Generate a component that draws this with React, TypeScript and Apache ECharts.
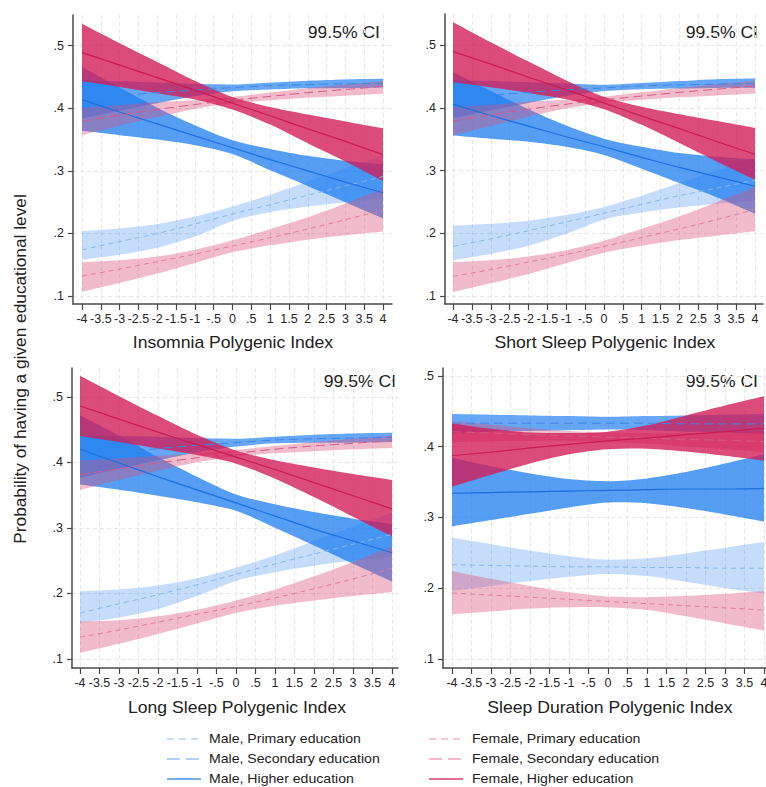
import React, { useEffect, useRef } from 'react';
import * as echarts from 'echarts';

const FONT = '"Liberation Sans", Arial, Helvetica, sans-serif';

// x positions of the estimated points (polygenic index)
const xs = [-4, -3, -2, -1, 0, 1, 2, 3, 4];
const xTicks = [-4, -3.5, -3, -2.5, -2, -1.5, -1, -0.5, 0, 0.5, 1, 1.5, 2, 2.5, 3, 3.5, 4];
const yTicks = [0.1, 0.2, 0.3, 0.4, 0.5];

const groupLabels = [
  'Male, Primary education',
  'Male, Secondary education',
  'Male, Higher education',
  'Female, Primary education',
  'Female, Secondary education',
  'Female, Higher education',
];

// ---------- Insomnia Polygenic Index ----------
const insMalePrimary = {
  mid: [0.174, 0.187, 0.2, 0.215, 0.231, 0.246, 0.261, 0.276, 0.291],
  hi: [0.204, 0.208, 0.215, 0.227, 0.243, 0.262, 0.283, 0.304, 0.325],
  lo: [0.158, 0.166, 0.177, 0.195, 0.22, 0.234, 0.243, 0.25, 0.256],
};
const insMaleSecondary = {
  mid: [0.414, 0.42, 0.425, 0.429, 0.433, 0.436, 0.438, 0.439, 0.44],
  hi: [0.444, 0.443, 0.441, 0.439, 0.438, 0.441, 0.444, 0.446, 0.447],
  lo: [0.384, 0.396, 0.408, 0.419, 0.427, 0.43, 0.432, 0.432, 0.433],
};
const insMaleHigher = {
  mid: [0.414, 0.394, 0.375, 0.356, 0.337, 0.318, 0.3, 0.282, 0.265],
  hi: [0.466, 0.433, 0.401, 0.373, 0.349, 0.335, 0.324, 0.316, 0.31],
  lo: [0.364, 0.357, 0.35, 0.341, 0.327, 0.301, 0.276, 0.25, 0.224],
};
const insFemalePrimary = {
  mid: [0.132, 0.143, 0.155, 0.167, 0.18, 0.193, 0.207, 0.222, 0.237],
  hi: [0.154, 0.157, 0.163, 0.174, 0.189, 0.207, 0.226, 0.248, 0.272],
  lo: [0.107, 0.121, 0.136, 0.153, 0.17, 0.181, 0.19, 0.197, 0.203],
};
const insFemaleSecondary = {
  mid: [0.379, 0.389, 0.398, 0.406, 0.413, 0.419, 0.425, 0.43, 0.435],
  hi: [0.401, 0.405, 0.41, 0.413, 0.418, 0.425, 0.432, 0.438, 0.443],
  lo: [0.357, 0.372, 0.386, 0.399, 0.408, 0.413, 0.417, 0.42, 0.423],
};
const insFemaleHigher = {
  mid: [0.489, 0.469, 0.449, 0.429, 0.408, 0.388, 0.367, 0.347, 0.326],
  hi: [0.535, 0.504, 0.474, 0.444, 0.418, 0.402, 0.39, 0.379, 0.368],
  lo: [0.443, 0.434, 0.424, 0.414, 0.398, 0.374, 0.344, 0.315, 0.284],
};

// ---------- Short Sleep Polygenic Index ----------
const shortMalePrimary = {
  mid: [0.179, 0.191, 0.204, 0.218, 0.232, 0.246, 0.26, 0.272, 0.285],
  hi: [0.212, 0.215, 0.22, 0.229, 0.242, 0.26, 0.28, 0.3, 0.32],
  lo: [0.157, 0.167, 0.18, 0.199, 0.222, 0.233, 0.241, 0.247, 0.252],
};
const shortMaleSecondary = {
  mid: [0.414, 0.42, 0.425, 0.429, 0.432, 0.435, 0.437, 0.438, 0.439],
  hi: [0.444, 0.443, 0.441, 0.439, 0.437, 0.44, 0.443, 0.446, 0.447],
  lo: [0.384, 0.396, 0.408, 0.419, 0.427, 0.43, 0.431, 0.432, 0.432],
};
const shortMaleHigher = {
  mid: [0.406, 0.388, 0.371, 0.354, 0.338, 0.321, 0.305, 0.29, 0.275],
  hi: [0.457, 0.427, 0.398, 0.372, 0.351, 0.338, 0.328, 0.322, 0.318],
  lo: [0.356, 0.351, 0.346, 0.338, 0.325, 0.303, 0.28, 0.257, 0.231],
};
const shortFemalePrimary = {
  mid: [0.131, 0.142, 0.154, 0.166, 0.179, 0.193, 0.207, 0.222, 0.238],
  hi: [0.154, 0.157, 0.163, 0.173, 0.188, 0.207, 0.227, 0.25, 0.274],
  lo: [0.106, 0.12, 0.135, 0.152, 0.169, 0.18, 0.189, 0.196, 0.203],
};
const shortFemaleSecondary = {
  mid: [0.379, 0.389, 0.398, 0.406, 0.413, 0.419, 0.425, 0.43, 0.435],
  hi: [0.401, 0.405, 0.41, 0.413, 0.418, 0.425, 0.432, 0.438, 0.443],
  lo: [0.356, 0.371, 0.386, 0.399, 0.408, 0.413, 0.417, 0.42, 0.423],
};
const shortFemaleHigher = {
  mid: [0.49, 0.47, 0.449, 0.429, 0.408, 0.387, 0.367, 0.346, 0.326],
  hi: [0.537, 0.505, 0.474, 0.444, 0.418, 0.402, 0.39, 0.379, 0.368],
  lo: [0.441, 0.433, 0.424, 0.414, 0.398, 0.373, 0.344, 0.314, 0.285],
};

// ---------- Long Sleep Polygenic Index ----------
const longMalePrimary = {
  mid: [0.17, 0.184, 0.198, 0.213, 0.229, 0.245, 0.26, 0.275, 0.29],
  hi: [0.203, 0.206, 0.212, 0.223, 0.239, 0.258, 0.28, 0.302, 0.323],
  lo: [0.155, 0.163, 0.176, 0.196, 0.219, 0.232, 0.242, 0.25, 0.256],
};
const longMaleSecondary = {
  mid: [0.408, 0.415, 0.421, 0.426, 0.43, 0.434, 0.436, 0.437, 0.438],
  hi: [0.44, 0.44, 0.439, 0.437, 0.436, 0.439, 0.442, 0.444, 0.445],
  lo: [0.376, 0.39, 0.403, 0.415, 0.424, 0.429, 0.43, 0.43, 0.431],
};
const longMaleHigher = {
  mid: [0.42, 0.399, 0.378, 0.358, 0.338, 0.318, 0.298, 0.28, 0.262],
  hi: [0.472, 0.441, 0.408, 0.378, 0.351, 0.336, 0.324, 0.314, 0.306],
  lo: [0.366, 0.358, 0.349, 0.339, 0.326, 0.3, 0.273, 0.245, 0.218],
};
const longFemalePrimary = {
  mid: [0.133, 0.144, 0.156, 0.168, 0.18, 0.193, 0.207, 0.222, 0.238],
  hi: [0.157, 0.159, 0.165, 0.175, 0.189, 0.206, 0.226, 0.248, 0.271],
  lo: [0.109, 0.123, 0.138, 0.154, 0.17, 0.181, 0.189, 0.196, 0.202],
};
const longFemaleSecondary = {
  mid: [0.381, 0.39, 0.399, 0.407, 0.414, 0.42, 0.425, 0.429, 0.433],
  hi: [0.403, 0.406, 0.41, 0.414, 0.419, 0.425, 0.431, 0.436, 0.441],
  lo: [0.358, 0.373, 0.387, 0.4, 0.409, 0.414, 0.417, 0.42, 0.422],
};
const longFemaleHigher = {
  mid: [0.486, 0.466, 0.446, 0.427, 0.408, 0.389, 0.369, 0.349, 0.329],
  hi: [0.532, 0.501, 0.471, 0.442, 0.418, 0.403, 0.392, 0.382, 0.373],
  lo: [0.44, 0.431, 0.421, 0.411, 0.398, 0.375, 0.347, 0.317, 0.287],
};

// ---------- Sleep Duration Polygenic Index ----------
const durMalePrimary = {
  mid: [0.233, 0.232, 0.231, 0.23, 0.23, 0.229, 0.229, 0.228, 0.228],
  hi: [0.271, 0.262, 0.253, 0.245, 0.24, 0.242, 0.249, 0.257, 0.265],
  lo: [0.196, 0.203, 0.21, 0.216, 0.22, 0.217, 0.209, 0.2, 0.192],
};
const durMaleSecondary = {
  mid: [0.433, 0.433, 0.433, 0.433, 0.433, 0.433, 0.432, 0.432, 0.432],
  hi: [0.446, 0.445, 0.444, 0.443, 0.442, 0.443, 0.444, 0.445, 0.446],
  lo: [0.419, 0.421, 0.422, 0.423, 0.424, 0.423, 0.421, 0.42, 0.418],
};
const durMaleHigher = {
  mid: [0.334, 0.335, 0.336, 0.337, 0.338, 0.339, 0.34, 0.34, 0.341],
  hi: [0.384, 0.372, 0.362, 0.354, 0.351, 0.355, 0.364, 0.376, 0.389],
  lo: [0.287, 0.296, 0.305, 0.314, 0.321, 0.32, 0.313, 0.304, 0.294],
};
const durFemalePrimary = {
  mid: [0.193, 0.19, 0.187, 0.184, 0.181, 0.178, 0.175, 0.172, 0.169],
  hi: [0.224, 0.213, 0.203, 0.194, 0.188, 0.187, 0.189, 0.192, 0.196],
  lo: [0.163, 0.167, 0.171, 0.173, 0.173, 0.169, 0.16, 0.15, 0.14],
};
const durFemaleSecondary = {
  mid: [0.421, 0.419, 0.417, 0.415, 0.413, 0.412, 0.41, 0.409, 0.407],
  hi: [0.436, 0.431, 0.426, 0.422, 0.42, 0.419, 0.419, 0.42, 0.422],
  lo: [0.406, 0.407, 0.408, 0.408, 0.406, 0.404, 0.4, 0.396, 0.392],
};
const durFemaleHigher = {
  mid: [0.387, 0.392, 0.398, 0.403, 0.408, 0.412, 0.417, 0.421, 0.426],
  hi: [0.433, 0.425, 0.42, 0.419, 0.421, 0.43, 0.444, 0.458, 0.471],
  lo: [0.343, 0.36, 0.376, 0.389, 0.396, 0.397, 0.393, 0.387, 0.38],
};

type Group = { mid: number[]; hi: number[]; lo: number[] };

const groupStyles = [
  { band: 'rgba(40,130,235,0.27)', line: '#86b6ef', dash: [5, 4] as any, width: 1 },
  { band: 'rgba(30,125,240,0.68)', line: '#3f86e2', dash: [9, 5] as any, width: 1 },
  { band: 'rgba(30,125,240,0.75)', line: '#1d6fdc', dash: 'solid' as any, width: 1.2 },
  { band: 'rgba(220,75,120,0.38)', line: '#df7c9e', dash: [5, 4] as any, width: 1 },
  { band: 'rgba(220,75,120,0.38)', line: '#d45a88', dash: [9, 5] as any, width: 1 },
  { band: 'rgba(210,25,85,0.78)', line: '#c91a53', dash: 'solid' as any, width: 1.2 },
];

const legendColors = ['#b6d3f5', '#98c2f1', '#4a91e9', '#f2b6c8', '#eba2bb', '#d6416f'];
const legendDashes: any[] = [[7, 5], [13, 6], null, [7, 5], [13, 6], null];

const SMOOTH = 0.3;

const panels = [
  {
    title: 'Insomnia Polygenic Index',
    groups: [insMalePrimary, insMaleSecondary, insMaleHigher, insFemalePrimary, insFemaleSecondary, insFemaleHigher],
    grid: { left: 73, top: 15, width: 319, height: 289 },
    xr: [-4.239, 4.239], yr: [0.0873, 0.549],
    titlePos: [233, 343], ciPos: [380, 33],
  },
  {
    title: 'Short Sleep Polygenic Index',
    groups: [shortMalePrimary, shortMaleSecondary, shortMaleHigher, shortFemalePrimary, shortFemaleSecondary, shortFemaleHigher],
    grid: { left: 445, top: 14, width: 318, height: 290 },
    xr: [-4.212, 4.212], yr: [0.087, 0.55],
    titlePos: [605, 343], ciPos: [758, 33],
  },
  {
    title: 'Long Sleep Polygenic Index',
    groups: [longMalePrimary, longMaleSecondary, longMaleHigher, longFemalePrimary, longFemaleSecondary, longFemaleHigher],
    grid: { left: 72, top: 368, width: 326, height: 300 },
    xr: [-4.205, 4.154], yr: [0.086, 0.544],
    titlePos: [237, 708], ciPos: [396, 382],
  },
  {
    title: 'Sleep Duration Polygenic Index',
    groups: [durMalePrimary, durMaleSecondary, durMaleHigher, durFemalePrimary, durFemaleSecondary, durFemaleHigher],
    grid: { left: 443, top: 368, width: 323, height: 300 },
    xr: [-4.231, 4.051], yr: [0.087, 0.511],
    titlePos: [610, 708], ciPos: [758, 382],
  },
];

const fmt = (v: number) => {
  const s = String(Math.round(v * 1000) / 1000);
  return s.replace(/^(-?)0\./, '$1.');
};

function txt(text: string, x: number, y: number, size: number, align: string, sx: number, extra: any = {}) {
  return {
    type: 'text', x, y, scaleX: sx, silent: true, ...extra,
    style: {
      text, fontSize: size, fontFamily: FONT, fill: '#222',
      textAlign: align, textVerticalAlign: 'middle',
    },
  };
}

function buildOption() {
  const axisColor = '#4a4a4a';
  const series: any[] = [];
  panels.forEach((p, pi) => {
    // confidence bands first
    p.groups.forEach((g: Group, gi) => {
      series.push({
        type: 'custom',
        name: groupLabels[gi] + ' CI',
        xAxisIndex: pi,
        yAxisIndex: pi,
        silent: true,
        clip: true,
        data: xs.map((x, i) => [x, g.lo[i], g.hi[i]]),
        encode: { x: 0, y: [1, 2] },
        renderItem: (params: any, api: any) => {
          if (params.dataIndexInside !== 0) return null;
          const n = params.dataInsideLength;
          const upper: number[][] = [];
          const lower: number[][] = [];
          for (let i = 0; i < n; i++) {
            upper.push(api.coord([api.value(0, i), api.value(2, i)]));
            lower.push(api.coord([api.value(0, i), api.value(1, i)]));
          }
          lower.reverse();
          // duplicate the four corners so that smoothing keeps them sharp
          const pts = [upper[0], ...upper, upper[n - 1], lower[0], ...lower, lower[n - 1]];
          return {
            type: 'polygon',
            shape: { points: pts, smooth: SMOOTH },
            style: { fill: groupStyles[gi].band, stroke: 'none' },
            silent: true,
          };
        },
      });
    });
    // then predicted probability lines
    p.groups.forEach((g: Group, gi) => {
      series.push({
        type: 'line',
        name: groupLabels[gi],
        xAxisIndex: pi,
        yAxisIndex: pi,
        silent: true,
        symbol: 'none',
        smooth: SMOOTH,
        data: xs.map((x, i) => [x, g.mid[i]]),
        lineStyle: { color: groupStyles[gi].line, width: groupStyles[gi].width, type: groupStyles[gi].dash },
      });
    });
  });

  const graphic: any[] = [];
  panels.forEach((p) => {
    graphic.push(txt(p.title, p.titlePos[0], p.titlePos[1], 16, 'center', 1.1));
    graphic.push(txt('99.5% CI', p.ciPos[0], p.ciPos[1], 16, 'right', 1.1));
  });
  graphic.push(
    txt('Probability of having a given educational level', 21, 369, 16, 'center', 1.08, { rotation: Math.PI / 2 })
  );
  // legend
  const rowsY = [739, 759, 779];
  groupLabels.forEach((lab, i) => {
    const col = i < 3 ? 0 : 1;
    const row = i % 3;
    const lx0 = col === 0 ? 167 : 429;
    const tx = col === 0 ? 209 : 472;
    graphic.push({
      type: 'line',
      silent: true,
      shape: { x1: lx0, y1: rowsY[row], x2: lx0 + 34, y2: rowsY[row] },
      style: { stroke: legendColors[i], lineWidth: 1.3, lineDash: legendDashes[i] || null },
    });
    graphic.push(txt(lab, tx, rowsY[row], 13, 'left', 1.085));
  });

  return {
    animation: false,
    backgroundColor: '#ffffff',
    textStyle: { fontFamily: FONT },
    grid: panels.map((p) => ({ ...p.grid, containLabel: false, outerBoundsMode: 'none' })),
    xAxis: panels.map((p, i) => ({
      type: 'value', gridIndex: i, min: p.xr[0], max: p.xr[1],
      axisLine: { show: true, onZero: false, lineStyle: { color: axisColor, width: 1.5 } },
      axisTick: { show: true, customValues: xTicks, length: 6, lineStyle: { color: axisColor, width: 1.2 } },
      axisLabel: { customValues: xTicks, formatter: fmt, fontSize: 12.5, color: '#262626', margin: 8, fontFamily: FONT },
      splitLine: { show: true, lineStyle: { color: '#e6e6e6', type: [4, 3], width: 1 } },
    })),
    yAxis: panels.map((p, i) => ({
      type: 'value', gridIndex: i, min: p.yr[0], max: p.yr[1],
      axisLine: { show: true, onZero: false, lineStyle: { color: axisColor, width: 1.5 } },
      axisTick: { show: true, customValues: yTicks, length: 5, lineStyle: { color: axisColor, width: 1.2 } },
      axisLabel: { customValues: yTicks, formatter: fmt, fontSize: 12.5, color: '#262626', margin: 9, fontFamily: FONT },
      splitLine: { show: true, lineStyle: { color: '#e6e6e6', type: [4, 3], width: 1 } },
    })),
    series,
    graphic,
  };
}

export default function App() {
  const ref = useRef<HTMLDivElement>(null);
  useEffect(() => {
    if (!ref.current) return;
    const chart = echarts.init(ref.current, undefined, { renderer: 'svg' });
    chart.setOption(buildOption() as any);
    return () => chart.dispose();
  }, []);
  return (
    <div
      ref={ref}
      style={{ position: 'absolute', left: 0, top: 0, width: 766, height: 787, background: '#fff' }}
    />
  );
}
